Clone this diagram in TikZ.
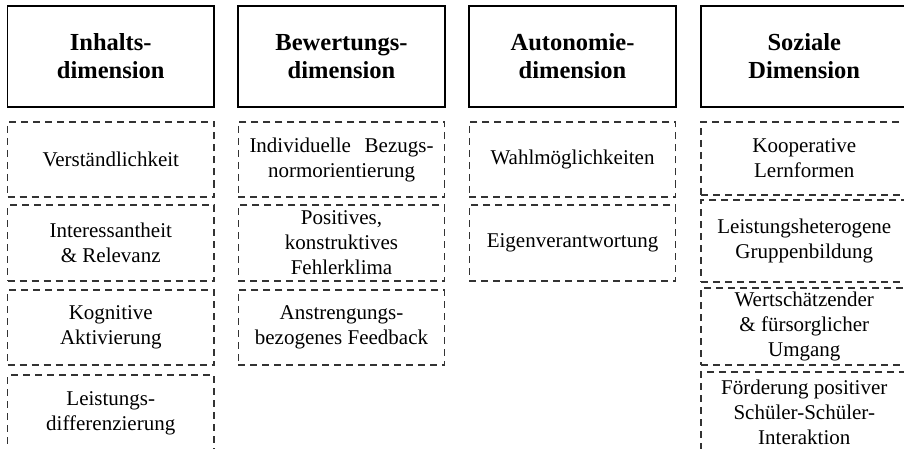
\documentclass[tikz,border=0pt]{standalone}
\usepackage{fontspec}
\setmainfont{Liberation Serif}
\usepackage{tikz}

\begin{document}
\begin{tikzpicture}[x=1pt,y=-1pt]
        \tikzstyle{head}=[rectangle, draw=black, line width=1.8pt, inner sep=0pt,
            minimum width=206.5pt, minimum height=101pt, align=center,
            font=\bfseries\fontsize{24.5}{28}\selectfont]
        \tikzstyle{item}=[rectangle, draw=black!80, line width=1.4pt,
            dash pattern=on 7pt off 5pt, inner sep=0pt, minimum width=206.5pt,
            align=center, font=\fontsize{21}{25}\selectfont]

        \useasboundingbox (0,0) rectangle (904,449);
        \clip (0,0) rectangle (904,449);

        % Kopfzeile
        \node[head] (inh) at (110.75,56.5) {Inhalts-\\dimension};
        \node[head] (bew) at (341.5,56.5) {Bewertungs-\\dimension};
        \node[head] (aut) at (572.5,56.5) {Autonomie-\\dimension};
        \node[head] (soz) at (804.25,56.5) {Soziale\\Dimension};

        % Inhaltsdimension
        \node[item, minimum height=75pt] (inh1) at (110.75,159.5) {Verständlichkeit};
        \node[item, minimum height=76pt] (inh2) at (110.75,243) {Interessantheit\\\& Relevanz};
        \node[item, minimum height=75pt] (inh3) at (110.75,327.5) {Kognitive\\Aktivierung};
        \node[item, minimum height=77pt] (inh4) at (110.75,413.5) {Leistungs-\\differenzierung};

        % Bewertungsdimension
        \node[item, minimum height=75pt] (bew1) at (341.5,159.5)
            {\makebox[184pt][s]{Individuelle Bezugs-}\\normorientierung};
        \node[item, minimum height=76pt] (bew2) at (341.5,243) {Positives,\\konstruktives\\Fehlerklima};
        \node[item, minimum height=75pt] (bew3) at (341.5,327.5) {Anstrengungs-\\bezogenes Feedback};

        % Autonomiedimension
        \node[item, minimum height=75pt] (aut1) at (572.5,159.5) {Wahlmöglichkeiten};
        \node[item, minimum height=76pt] (aut2) at (572.5,243) {Eigenverantwortung};

        % Soziale Dimension
        \node[item, minimum height=73pt] (soz1) at (804.25,158.5) {Kooperative\\Lernformen};
        \node[item, minimum height=82pt] (soz2) at (804.25,241) {Leistungsheterogene\\Gruppenbildung};
        \node[item, minimum height=77pt] (soz3) at (804.25,326.5) {Wertschätzender\\\& fürsorglicher\\Umgang};
        \node[item, minimum height=80pt] (soz4) at (804.25,412) {Förderung positiver\\Schüler-Schüler-\\Interaktion};
    \end{tikzpicture}
\end{document}
